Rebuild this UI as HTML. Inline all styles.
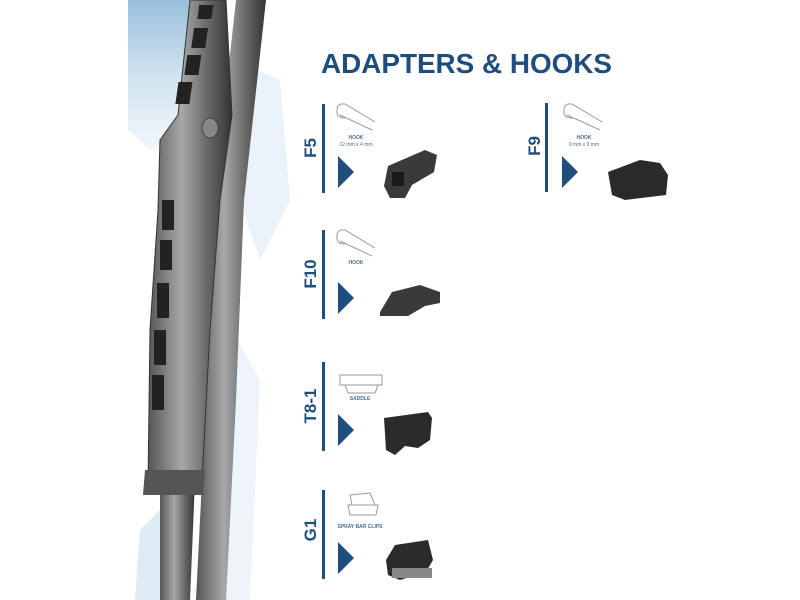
<!DOCTYPE html>
<html><head><meta charset="utf-8"><style>
body{margin:0;width:800px;height:600px;background:#fff;overflow:hidden;position:relative;font-family:"Liberation Sans",sans-serif}
.t{position:absolute;left:321px;top:48px;font-size:28px;font-weight:bold;color:#1d4e7f;letter-spacing:0;transform:scaleX(0.995);transform-origin:left top;white-space:nowrap}
.bar{position:absolute;width:3px;height:89px;background:#1d4e7f}
.lab{position:absolute;font-weight:bold;color:#1d4e7f;font-size:17px;transform:rotate(-90deg);transform-origin:center;white-space:nowrap;width:50px;text-align:center}
.tri{position:absolute;width:0;height:0;border-top:16px solid transparent;border-bottom:16px solid transparent;border-left:16px solid #1d4e7f}
.cap{position:absolute;font-size:5px;color:#4a6d8f;text-align:center;width:60px;font-weight:bold;line-height:7px}
.cap span{font-weight:normal}
</style></head><body>
<svg width="800" height="600" style="position:absolute;left:0;top:0">
<defs>
<linearGradient id="w" x1="0" y1="0" x2="0" y2="1"><stop offset="0" stop-color="#7fb0d2"/><stop offset="0.5" stop-color="#c4dcec"/><stop offset="1" stop-color="#eef5fa"/></linearGradient>
<linearGradient id="m" x1="0" y1="0" x2="1" y2="0"><stop offset="0" stop-color="#555"/><stop offset="0.4" stop-color="#a8a8a8"/><stop offset="0.7" stop-color="#6a6a6a"/><stop offset="1" stop-color="#333"/></linearGradient>
</defs>
<path d="M128 0 L210 0 L205 140 L150 150 L128 130 Z" fill="url(#w)" opacity="0.8"/>
<path d="M235 60 L280 80 L290 200 L260 260 L240 200 Z" fill="#dfecf5" opacity="0.7"/>
<path d="M215 300 L260 380 L250 600 L215 600 Z" fill="#e7f0f7" opacity="0.7"/>
<path d="M140 530 L170 500 L175 600 L135 600 Z" fill="#cfe2ef" opacity="0.7"/>
<path d="M236 0 L266 0 L244 200 L236 400 L226 600 L196 600 L206 400 L214 200 Z" fill="url(#m)"/>
<path d="M160 480 L195 480 L190 600 L160 600 Z" fill="url(#m)"/>
<path d="M190 0 L226 0 L232 115 L220 200 L210 330 L202 480 L148 485 L150 330 L158 210 L160 140 L178 115 Z" fill="url(#m)" stroke="#333" stroke-width="1"/>
<path d="M145 470 L205 470 L203 495 L143 495 Z" fill="#555"/>
<g fill="#222">
<rect x="200" y="5" width="14" height="14" transform="skewX(-8)"/>
<rect x="198" y="28" width="14" height="20" transform="skewX(-8)"/>
<rect x="195" y="55" width="14" height="20" transform="skewX(-8)"/>
<rect x="190" y="82" width="14" height="22" transform="skewX(-8)"/>
<rect x="162" y="200" width="12" height="30"/>
<rect x="160" y="240" width="12" height="30"/>
<rect x="157" y="283" width="12" height="35"/>
<rect x="154" y="330" width="12" height="35"/>
<rect x="152" y="375" width="12" height="35"/>
</g>
<ellipse cx="210" cy="128" rx="8" ry="10" fill="#888" stroke="#444"/>
</svg>
<div class="t">ADAPTERS &amp; HOOKS</div>

<div class="bar" style="left:322px;top:104px"></div><div class="lab" style="left:286px;top:138px">F5</div><div class="tri" style="left:338px;top:156px"></div>
<div class="cap" style="left:326px;top:135px">HOOK<br><span>12 mm x 4 mm</span></div>
<div class="bar" style="left:545px;top:103px"></div><div class="lab" style="left:510px;top:136px">F9</div><div class="tri" style="left:562px;top:156px"></div>
<div class="cap" style="left:554px;top:135px">HOOK<br><span>9 mm x 3 mm</span></div>
<div class="bar" style="left:322px;top:230px"></div><div class="lab" style="left:286px;top:264px">F10</div><div class="tri" style="left:338px;top:282px"></div>
<div class="cap" style="left:326px;top:260px">HOOK</div>
<div class="bar" style="left:322px;top:362px"></div><div class="lab" style="left:286px;top:396px">T8-1</div><div class="tri" style="left:338px;top:414px"></div>
<div class="cap" style="left:330px;top:396px">SADDLE</div>
<div class="bar" style="left:322px;top:490px"></div><div class="lab" style="left:286px;top:520px">G1</div><div class="tri" style="left:338px;top:542px"></div>
<div class="cap" style="left:330px;top:524px">SPRAY BAR CLIPS</div>

<svg width="800" height="600" style="position:absolute;left:0;top:0" fill="none" stroke="#999" stroke-width="1">
<path d="M337 110 Q337 103 345 104 L375 122 M340 115 L372 130 M337 110 Q336 118 345 118"/>
<path d="M564 110 Q564 103 572 104 L602 122 M567 115 L600 130 M564 110 Q563 118 572 118"/>
<path d="M337 236 Q337 229 345 230 L375 248 M340 241 L372 256 M337 236 Q336 244 345 244"/>
<path d="M340 375 L382 375 L382 385 L340 385 Z M345 385 L348 393 L375 393 L378 385"/>
<path d="M350 495 L370 493 L375 505 L352 505 Z M348 505 L378 505 L376 515 L350 515 Z"/>
</svg>
<svg width="800" height="600" style="position:absolute;left:0;top:0">
<g fill="#3a3a3a">
<path d="M388 166 L425 150 L437 155 L434 172 L412 185 L405 198 L390 198 L384 186 Z"/>
<rect x="392" y="172" width="12" height="14" fill="#1a1a1a"/>
<path d="M608 172 L640 160 L660 163 L668 175 L666 195 L625 200 L612 195 Z" fill="#2a2a2a"/>
<path d="M380 312 L392 292 L420 285 L440 292 L440 303 L425 306 L408 316 L380 316 Z"/>
<path d="M384 418 L428 412 L432 418 L430 440 L418 448 L405 446 L395 455 L386 450 Z" fill="#2b2b2b"/>
<path d="M395 545 L428 540 L433 560 L426 572 L400 580 L388 575 L386 560 Z" fill="#2b2b2b"/>
<rect x="392" y="568" width="40" height="10" fill="#888"/>
</g>
</svg>
</body></html>
